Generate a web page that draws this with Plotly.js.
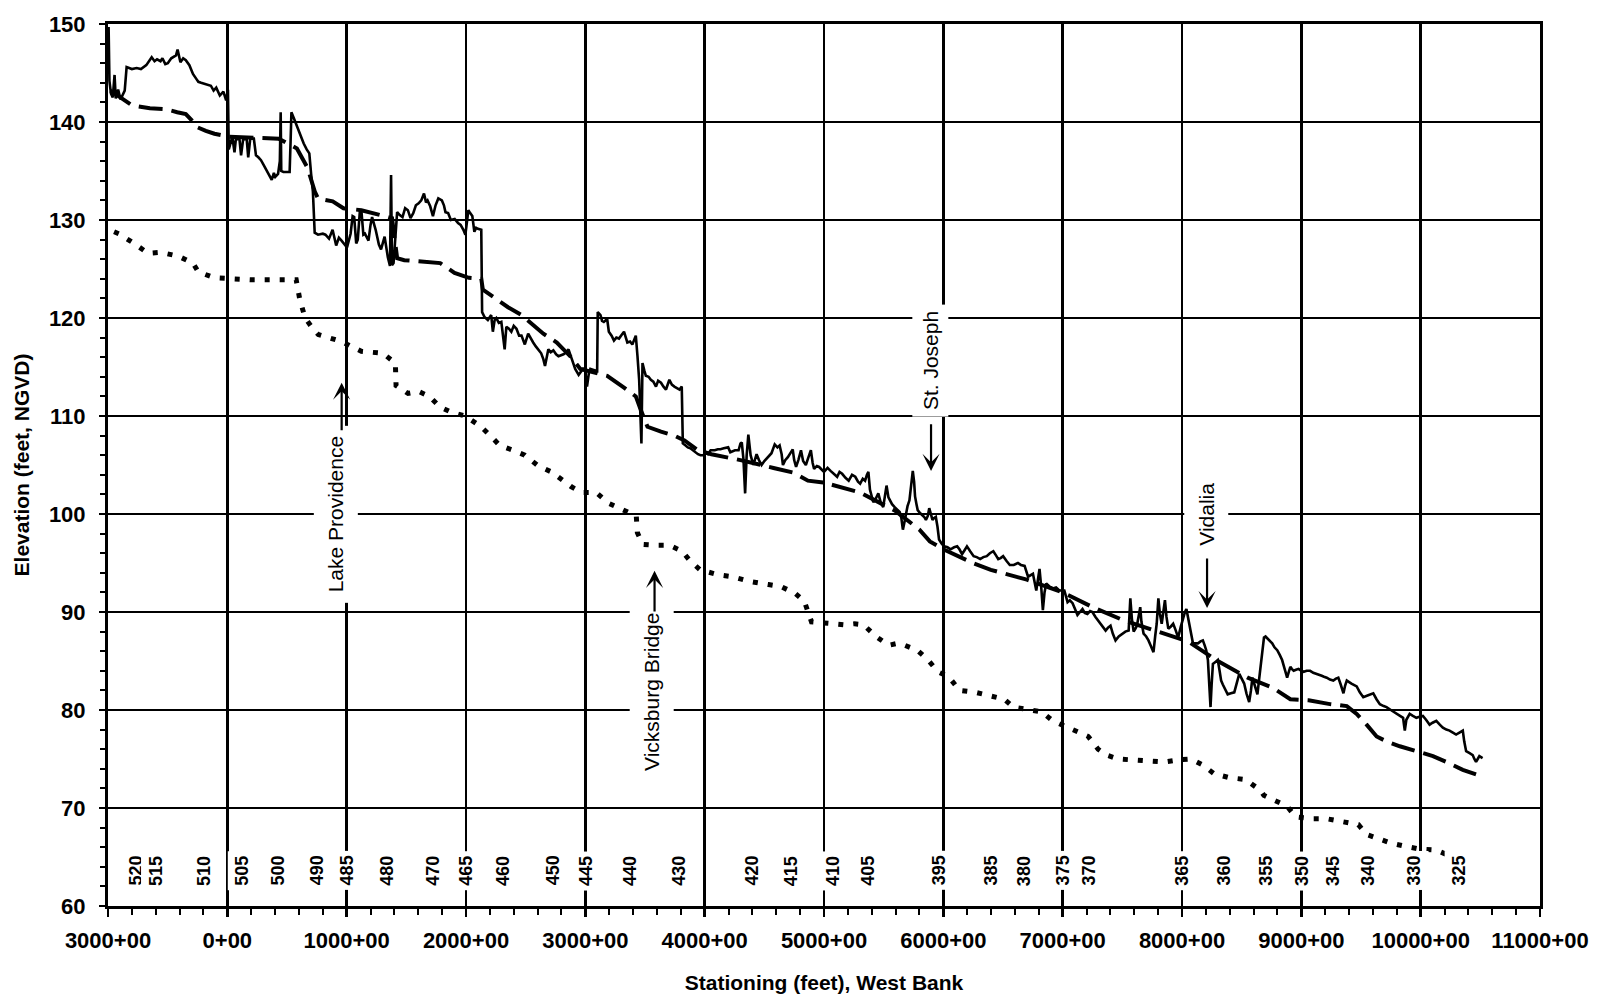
<!DOCTYPE html>
<html>
<head>
<meta charset="utf-8">
<script src="https://cdn.plot.ly/plotly-3.0.1.min.js"></script>
<style>
html,body{margin:0;padding:0;background:#fff;}
#chart{width:1601px;height:994px;}
</style>
</head>
<body>
<div id="chart"></div>
<script>
// ---------- axis ticks ----------
const xTickVals = [-1000,0,1000,2000,3000,4000,5000,6000,7000,8000,9000,10000,11000];
const xTickText = ['3000+00','0+00','1000+00','2000+00','3000+00','4000+00','5000+00','6000+00','7000+00','8000+00','9000+00','10000+00','11000+00'];
const yTickVals = [60,70,80,90,100,110,120,130,140,150];

// ---------- river mile labels ----------
const riverMiles        = ['520','515','510','505','500','490','485','480','470','465','460','450','445','440','430','420','415','410','405','395','385','380','375','370','365','360','355','350','345','340','330','325'];
const riverMileStations = [-767,-604,-194,123,422,748,1000,1339,1723,2000,2305,2725,3000,3376,3786,4394,4719,5069,5370,5960,6397,6671,7000,7218,8000,8350,8705,9000,9260,9558,9942,10320];

// ---------- place names ----------
const placeNames     = ['Lake Providence','Vicksburg Bridge','St. Joseph','Vidalia'];
const placeTextX     = [905, 3555, 5888, 8199];
const placeTextY     = [100, 81.8, 115.7, 100];
const placeArrowX    = [958, 3580, 5897, 8210];
const placeArrowTail = [108.4, 89.9, 109.3, 95.6];
const placeArrowTip  = [113.4, 94.2, 104.4, 90.4];

// ---------- solid line (observed profile) : [station, elevation] ----------
const observedProfile = [
[-1000,145.8],[-995,149.7],[-988,144.2],[-975,142.9],[-960,142.5],[-945,144.8],[-935,142.4],[-915,143.3],[-895,142.3],[-860,143.2],
[-844,145.6],[-800,145.4],[-760,145.5],[-724,145.4],[-679,145.8],[-634,146.6],[-610,146.2],[-589,146.4],[-560,146.2],[-544,146.5],
[-520,145.9],[-499,146],[-470,146.5],[-454,146.6],[-430,146.8],[-417,147.4],[-400,146.3],[-393,146.1],[-370,146.5],[-348,146.3],
[-318,145.8],[-288,144.9],[-260,144.4],[-243,144.1],[-220,144],[-198,143.9],[-170,143.8],[-138,143.7],[-115,143.2],[-93,143.5],
[-63,142.7],[-33,143.1],[-10,142.2],[5,143.3],
[12,137.2],[42,138.5],[60,136.9],[72,138.3],[102,138.2],[115,136.6],[132,138.2],[162,138.3],[175,136.4],[192,138.3],
[222,138.3],[240,136.6],[260,136.4],[282,136.1],[305,135.6],[327,135.1],[350,134.5],[372,134.1],[390,134.8],[402,134.4],
[425,134.7],[440,136],[447,141],[452,135],[470,134.9],[500,134.9],[522,134.9],[530,138],[537,141],[560,140.3],
[590,139.3],[612,138.6],[640,137.8],[665,137.2],[687,136.8],[702,134.7],[717,132.9],[732,128.7],[760,128.5],[800,128.6],
[822,128.5],[852,128.1],[882,129],[912,127.4],[935,128.2],[957,127.9],[1003,127.2],[1033,128.6],[1050,130.4],[1063,130.3],
[1080,127.6],[1093,128],[1110,130.8],[1123,131],[1140,128.5],[1153,128.6],[1183,127.9],[1200,129.5],[1213,130.3],[1243,129],
[1270,127.5],[1288,127],[1318,128.3],[1345,126.2],[1363,125.3],[1372,134.6],[1380,125.4],[1393,125.6],[1410,129],[1423,130.8],
[1445,130.5],[1468,130.3],[1490,131.2],[1513,131],[1535,130.2],[1558,130.7],[1580,131.5],[1603,131.7],[1625,132],[1648,132.7],
[1665,131.8],[1678,132],[1700,131.4],[1723,130.4],[1745,131.5],[1768,132.2],[1798,132],[1815,131.5],[1828,130.8],[1850,130.7],
[1873,130],[1905,130.1],[1933,129.7],[1955,129.5],[1978,129],[1995,128.5],[2008,129.8],[2020,131],[2035,130.7],[2053,130.4],
[2070,128.8],[2085,129.2],[2100,129.1],[2128,129],
[2135,120.6],[2155,120.1],[2183,119.8],[2211,120.3],[2225,118.6],[2240,119.8],[2254,120],[2275,119.5],[2296,119.6],[2324,116.8],
[2338,119.1],[2360,118.9],[2380,118.6],[2400,119.2],[2423,118.9],[2445,118.2],[2465,118.2],[2493,117.3],[2521,118.4],[2545,117.8],
[2563,117.5],[2585,117.1],[2606,116.8],[2630,116.4],[2648,115.8],[2662,115.1],[2690,116.8],[2710,116.5],[2732,116.7],[2755,116.3],
[2775,116.1],[2817,116.3],[2840,116.5],[2859,116.8],[2887,115.8],[2915,114.8],[2944,114.2],[2965,114.6],[2986,114.9],[3000,114.5],
[3014,113],[3030,114.4],[3042,114.8],[3070,114.7],[3099,114.6],[3104,120.6],[3127,120.3],[3140,119.7],[3155,119.6],[3183,119.9],
[3197,118.6],[3220,118.2],[3240,117.7],[3260,118],[3282,117.9],[3305,118.3],[3324,118.6],[3352,117.5],[3375,117.6],[3394,117.3],
[3410,117.8],[3423,118.2],[3437,116.1],[3451,113.7],[3470,107.2],[3479,115.4],[3495,114.6],[3507,114.1],[3530,114],[3549,113.7],
[3570,113.5],[3592,113],[3610,113.6],[3634,113.4],[3655,113],[3676,112.7],[3704,113.7],[3725,113.2],[3746,113],[3770,112.8],
[3789,112.7],[3808,113],[3817,107.2],[3840,107],[3859,106.8],[3880,106.7],[3901,106.5],[3920,106.3],[3944,106.1],[3965,106],
[3986,106],[4010,106.2],[4028,106.1],[4050,106.5],[4085,106.5],[4110,106.6],[4132,106.6],[4160,106.7],[4197,106.8],[4215,106.3],
[4254,106.5],[4284,106.5],[4300,107.2],[4311,107.3],[4325,105.6],[4339,102.1],[4352,106],[4366,108.1],[4385,106],[4408,105],
[4435,106.1],[4455,105.5],[4477,105],[4500,105.4],[4532,105.8],[4560,106.2],[4587,107.1],[4610,106.8],[4628,107],[4645,106.1],
[4656,105],[4675,105.5],[4697,105.8],[4720,106.2],[4738,106.6],[4750,105.5],[4766,104.8],[4785,105.5],[4807,106.5],[4825,105.4],
[4848,105],[4870,105.8],[4890,106.5],[4905,105.2],[4917,104.6],[4940,104.9],[4959,104.8],[5000,104.3],[5030,104.7],[5055,104.4],
[5085,104.1],[5110,103.8],[5130,104.3],[5152,104.1],[5180,103.7],[5207,103.4],[5235,104],[5262,103.8],[5285,103.3],[5303,103.1],
[5325,103.6],[5344,103.4],[5360,104],[5372,104.3],[5385,102.5],[5399,101.8],[5413,101.2],[5427,101.4],[5455,102.1],[5475,101.2],
[5496,100.7],[5510,101.8],[5524,102.9],[5540,101.7],[5551,101.4],[5570,101],[5592,100.7],[5610,100.5],[5634,100.2],[5648,99.6],
[5661,98.4],[5675,99.2],[5689,100.1],[5700,100.8],[5716,101.4],[5730,103],[5744,104.4],[5755,103.3],[5763,101.8],[5775,101],
[5785,100.4],[5805,100.1],[5826,99.9],[5840,99.7],[5854,99.4],[5870,99.8],[5882,100.6],[5895,100],[5909,99.4],[5923,99.6],
[5937,99.7],[5951,98.7],[5964,97.4],[5985,97],[6006,96.7],[6035,96.6],[6061,96.4],[6090,96.6],[6116,96.7],[6135,96.4],
[6157,95.9],[6178,96.3],[6198,96.7],[6225,96.2],[6254,95.7],[6280,95.6],[6309,95.4],[6335,95.6],[6364,95.7],[6390,96],
[6419,96.2],[6440,95.8],[6460,95.4],[6480,95.5],[6501,95.7],[6530,95.2],[6557,94.8],[6590,94.8],[6625,95],[6650,94.8],
[6681,94.7],[6710,93.6],[6751,93.9],[6779,92.2],[6806,94.4],[6820,92.6],[6834,90.2],[6848,92],[6862,92.9],[6890,92.6],
[6917,92.4],[6945,92.5],[6972,92.2],[7014,92.2],[7041,91],[7060,91.2],[7083,90.9],[7100,90.4],[7124,89.7],[7145,90],
[7166,90.3],[7185,89.9],[7207,89.8],[7230,90.1],[7249,90],[7275,89.5],[7304,89],[7330,88.6],[7360,88.1],[7380,88.4],
[7401,88.6],[7420,87.8],[7443,87.1],[7470,87.5],[7498,87.8],[7525,88],[7553,88.1],[7560,89.5],[7567,91.4],[7580,89.3],
[7595,88],[7610,88.3],[7622,88.6],[7640,89.8],[7650,90.5],[7660,89],[7678,87.8],[7700,87.5],[7719,87.1],[7740,86.5],
[7761,85.9],[7775,87.5],[7788,88.8],[7802,91.4],[7815,89.8],[7830,88.8],[7845,89.9],[7857,91.2],[7870,89.5],[7885,88.3],
[7905,88.5],[7926,88.8],[7945,88.2],[7968,87.4],[7990,88.5],[8010,89.5],[8025,90],[8037,90.3],[8050,89.5],[8065,88.6],
[8080,87.6],[8092,86.8],[8115,86.8],[8134,86.8],[8155,87],[8175,87.1],[8190,86.6],[8203,86.1],[8217,85.1],[8228,82.5],
[8239,80.3],[8248,82.5],[8259,84.7],[8280,84.9],[8300,85.1],[8315,84],[8328,83],[8342,82.6],[8355,82.3],[8370,81.9],
[8383,81.6],[8410,81.7],[8438,81.8],[8460,82.8],[8480,83.7],[8500,83.2],[8521,82.7],[8540,81.7],[8563,80.8],[8578,82],
[8590,83.3],[8610,82.5],[8632,81.6],[8645,83],[8659,84.4],[8672,86],[8687,87.4],[8700,87.5],[8715,87.3],[8735,87],
[8756,86.8],[8775,86.4],[8798,86.1],[8820,85.6],[8839,85.1],[8860,84.2],[8881,83.3],[8895,83.9],[8908,84.4],[8920,84.2],
[8936,84],[8955,84.1],[8977,84.2],[9000,84],[9019,83.9],[9045,84],[9074,84],[9100,83.8],[9130,83.7],[9150,83.6],
[9171,83.5],[9190,83.4],[9213,83.3],[9240,83.1],[9268,83],[9290,83.2],[9310,83.3],[9330,82.6],[9353,81.7],[9367,82.5],
[9381,83],[9420,82.7],[9464,82.4],[9490,81.8],[9519,81.3],[9560,81.5],[9603,81.7],[9630,81.1],[9658,80.6],[9690,80.4],
[9714,80.3],[9750,80],[9797,79.6],[9825,79.4],[9853,79.2],[9860,78.5],[9867,77.9],[9880,79],[9908,79.6],[9935,79.4],
[9964,79.2],[9990,79.3],[10019,79.4],[10045,79],[10075,78.5],[10100,78.7],[10131,78.9],[10160,78.5],[10186,78.2],[10215,78],
[10242,77.9],[10270,77.7],[10297,77.5],[10325,77.7],[10353,77.9],[10365,76.8],[10381,75.8],[10410,75.6],[10436,75.4],[10450,75],
[10464,74.7],[10478,75],[10492,75.3],[10519,75.1]
];

// ---------- long-dash line : [station, elevation] ----------
const dashedProfile = [
[-980,143.2],[-889,142.4],[-799,141.7],[-649,141.4],[-514,141.3],[-420,141],[-348,140.8],[-300,140.2],[-258,139.5],[-180,139.1],
[-108,138.8],[12,138.5],[200,138.4],[430,138.3],[583,137.3],[673,135.3],[733,132.9],[760,132.2],[883,131.9],[973,131.2],
[1123,131],[1303,130.5],[1380,130.2],[1423,126.1],[1483,125.9],[1784,125.6],[1904,124.6],[2024,124.1],[2128,124],[2141,122.9],
[2225,122.2],[2352,121.1],[2465,120.3],[2549,119.4],[2648,118.4],[2761,117.5],[2873,116.1],[2958,114.8],[3080,114.4],[3183,114.1],
[3324,112.9],[3423,112],[3465,110.6],[3521,108.9],[3634,108.4],[3746,108],[3831,107.5],[3944,106.5],[4056,106.1],[4300,105.5],
[4577,104.7],[4750,104.2],[4865,103.4],[5000,103.2],[5300,102.2],[5600,100.3],[5800,98.4],[5887,97.2],[6000,96.4],[6248,95],
[6398,94.3],[6700,93.3],[7000,92],[7250,90.5],[7500,89.2],[7800,88],[8050,87],[8300,85],[8550,83.3],[8756,82.3],
[8908,81.1],[9061,81],[9240,80.6],[9381,80.4],[9464,79.6],[9547,78.5],[9631,77.3],[9714,76.8],[9825,76.3],[9964,75.8],
[10103,75.3],[10214,74.7],[10353,73.9],[10519,73.2]
];

// ---------- dotted line : [station, elevation] ----------
const dottedProfile = [
[-949,128.8],[-910,128.6],[-793,127.7],[-664,126.6],[-559,126.7],[-409,126.3],[-288,125.6],[-243,124.7],[-108,124.1],[20,124],
[200,123.9],[441,123.9],[577,123.9],[607,121.9],[652,120],[712,119],[763,118.3],[958,117.6],[1123,116.6],[1303,116.4],
[1408,115.4],[1414,113.1],[1514,112.3],[1604,112.5],[1694,112],[1784,110.9],[1874,110.4],[1994,110],[2127,108.9],[2211,107.9],
[2282,107],[2394,106.5],[2493,106],[2606,104.9],[2714,104.3],[2759,103.9],[2880,102.8],[2970,102.2],[3090,102.2],[3195,101.1],
[3316,100.4],[3427,99.8],[3436,98.1],[3481,96.9],[3601,96.8],[3707,96.8],[3812,96.2],[3872,95.3],[3962,94.3],[4113,93.8],
[4233,93.6],[4383,93.1],[4534,92.8],[4639,92.6],[4759,91.9],[4835,91.1],[4895,89],[5045,88.8],[5165,88.7],[5256,88.8],
[5331,88.7],[5436,87.5],[5541,86.6],[5617,86.8],[5677,86.6],[5782,86.1],[5872,85.1],[5955,83.9],[6045,83.4],[6135,82],
[6270,81.8],[6375,81.5],[6510,81.1],[6586,80.3],[6706,80],[6826,79.8],[6916,78.9],[7006,78.4],[7096,78],[7214,77.3],
[7297,76],[7367,75.4],[7464,75],[7603,74.9],[7728,74.8],[7853,74.7],[7964,74.9],[8075,75],[8172,74.4],[8269,73.5],
[8394,73.1],[8533,72.9],[8658,71.8],[8686,71.3],[8769,70.8],[8880,70.2],[8950,69.1],[9089,68.9],[9214,68.9],[9311,68.7],
[9381,68.5],[9478,68.3],[9547,67.3],[9658,66.8],[9756,66.4],[9867,66.1],[9992,65.8],[10131,65.7],[10228,65.2]
];

const BOLD = {family:'Liberation Sans, Arial, sans-serif', size:22, color:'#000', weight:'bold'};

function trace(points, dash, width){
  return {
    type:'scatter', mode:'lines',
    x: points.map(p=>p[0]), y: points.map(p=>p[1]),
    line:{color:'#000', width:width, dash:dash},
    hoverinfo:'skip', showlegend:false
  };
}

const data = [
  trace(dottedProfile, '5px,10px', 5),
  trace(dashedProfile, '24px,9px', 4),
  trace(observedProfile, 'solid', 2.6)
];

const annotations = [];
// river mile labels
riverMiles.forEach((m,i)=>{
  annotations.push({
    x: riverMileStations[i], y: 63.6, xref:'x', yref:'y',
    text: m, showarrow:false, textangle:-90,
    font:{family:'Liberation Sans, Arial, sans-serif', size:18, color:'#000', weight:'bold'},
    bgcolor:'#fff', borderpad:4
  });
});
// place names
placeNames.forEach((name,i)=>{
  annotations.push({
    x: placeTextX[i], y: placeTextY[i], xref:'x', yref:'y',
    text: name, showarrow:false, textangle:-90,
    font:{family:'Liberation Sans, Arial, sans-serif', size:21, color:'#000'},
    bgcolor:'#fff', borderpad: (i===2 ? 6 : 10)
  });
});
// arrows
placeNames.forEach((name,i)=>{
  annotations.push({
    x: placeArrowX[i], y: placeArrowTip[i], xref:'x', yref:'y',
    ax: placeArrowX[i], ay: placeArrowTail[i], axref:'x', ayref:'y',
    text:'', showarrow:true, arrowhead:3, arrowsize:1.3, arrowwidth:2.2, arrowcolor:'#000'
  });
});

const layout = {
  width:1601, height:994,
  margin:{l:108, r:61, t:24, b:88},
  paper_bgcolor:'#fff', plot_bgcolor:'#fff',
  showlegend:false,
  xaxis:{
    range:[-1000,11000], tickmode:'array', tickvals:xTickVals, ticktext:xTickText,
    showgrid:true, gridcolor:'#000', gridwidth:2.5, zeroline:false,
    showline:true, linecolor:'#000', linewidth:3, mirror:true,
    ticks:'outside', ticklen:8, tickwidth:2.5, tickcolor:'#000',
    ticklabelstandoff:5,
    minor:{tickmode:'linear', tick0:-1000, dtick:200, ticks:'outside', ticklen:6, tickwidth:2, tickcolor:'#000', showgrid:false},
    tickfont:BOLD,
    title:{text:'Stationing (feet), West Bank', font:Object.assign({}, BOLD, {size:21}), standoff:29}
  },
  yaxis:{
    range:[60,150], tickmode:'array', tickvals:yTickVals,
    showgrid:true, gridcolor:'#000', gridwidth:2.5, zeroline:false,
    showline:true, linecolor:'#000', linewidth:3, mirror:true,
    ticks:'outside', ticklen:6, tickwidth:2, tickcolor:'#000',
    ticklabelstandoff:9,
    minor:{tickmode:'linear', tick0:60, dtick:2, ticks:'outside', ticklen:5, tickwidth:2, tickcolor:'#000', showgrid:false},
    tickfont:BOLD,
    title:{text:'Elevation (feet, NGVD)', font:Object.assign({}, BOLD, {size:21}), standoff:14}
  },
  annotations: annotations
};

Plotly.newPlot('chart', data, layout, {displayModeBar:false, staticPlot:true});
</script>
</body>
</html>
